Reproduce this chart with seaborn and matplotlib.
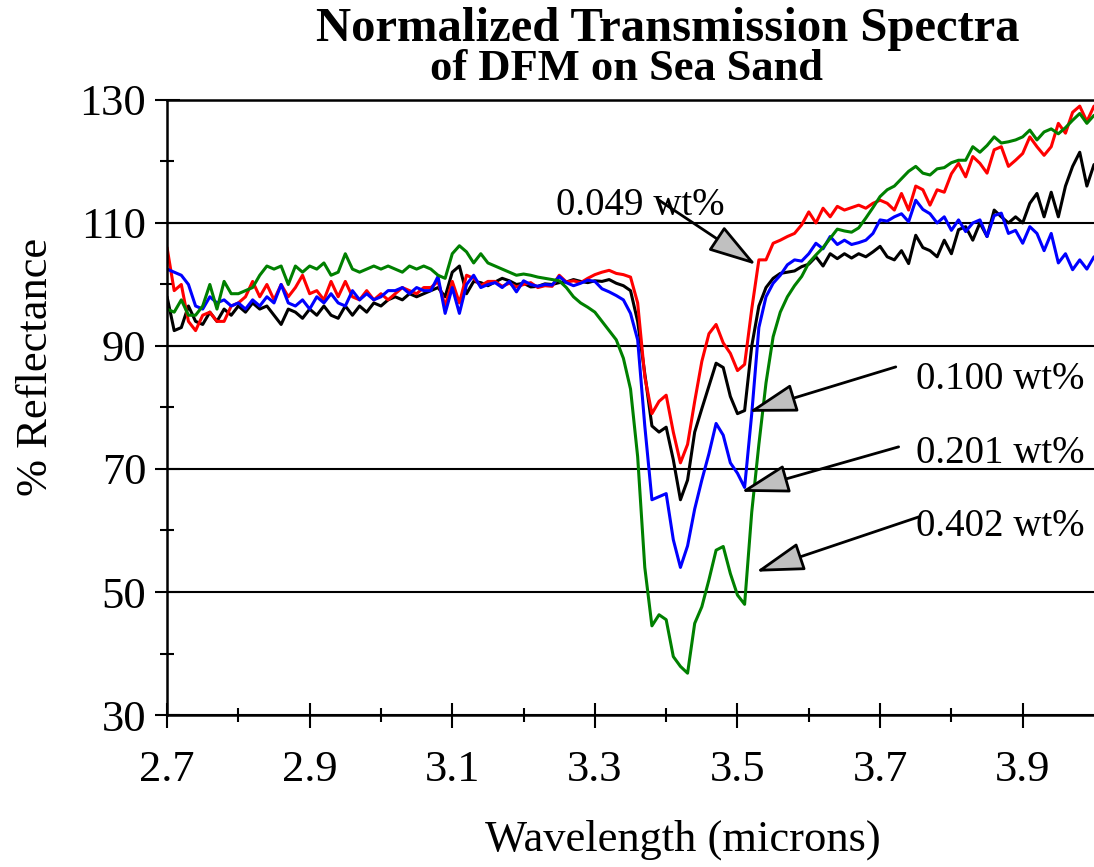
import numpy as np
import pandas as pd
import matplotlib
matplotlib.use('Agg')
import matplotlib.pyplot as plt
import seaborn as sns

# -----------------------------
# Data
# -----------------------------

# wavelength grid in microns, 2.70 ... 4.00
wavelength = np.round(np.arange(2.70, 4.005, 0.01), 2)

# % reflectance for each DFM loading
refl_0049 = [
    106, 99, 100, 94, 92.5, 95, 95.5, 94, 94, 96.5,
    97, 98, 100.5, 98, 100, 97.5, 100, 98, 99.5, 101.5,
    98.5, 99, 97.5, 100.5, 98, 100.5, 98, 97.5, 99, 97.5,
    98.5, 97.5, 98.5, 99.5, 99, 98.5, 99.5, 99.5, 100.5, 96.5,
    100.5, 97, 101.5, 101, 99.8, 100.5, 100.5, 99.7, 100.2, 99.6,
    100, 100.3, 99.5, 99.8, 99.7, 101.5, 100.4, 100.6, 100.3, 101,
    101.6, 102, 102.3, 101.8, 101.6, 101.2, 97, 85, 79, 81,
    82, 76, 71, 74, 81, 87.5, 92, 93.5, 90.5, 88.8,
    86, 87, 96, 104, 104, 106.7, 107.2, 107.8, 108.3, 109.7,
    111.8, 110, 112.4, 111, 112.7, 112.1, 112.5, 112.9, 112.4, 113.2,
    113.7, 113.2, 112.1, 114.8, 112.1, 116, 115.4, 112.9, 115.4, 115,
    118, 119.7, 117.5, 120.8, 119.7, 118.1, 121.9, 122.4, 119.2, 120.2,
    121.3, 124, 122.4, 121, 122.4, 126.2, 124.6, 128, 129, 126.5,
    129,
]

refl_0100 = [
    98, 92.5, 93, 96.5, 94, 93.5, 95.5, 94, 96, 95,
    96.5, 95.5, 97, 96, 96.5, 95, 93.5, 96, 95.5, 94.5,
    96, 95, 96.5, 95, 94.5, 96.5, 95, 96.5, 95.5, 97,
    96.5, 97.5, 98, 97.5, 98.5, 98, 98.5, 99, 99.5, 98,
    102, 103, 98.5, 100.5, 100.3, 99.8, 100.4, 101, 100.6, 100,
    100.2, 99.6, 99.7, 100.1, 100, 100.3, 100.4, 100.8, 100.5, 100.3,
    100.6, 100.5, 100.8, 100.2, 99.8, 99, 94, 85.5, 77, 76,
    76.8, 71.5, 65, 68.2, 76, 79.8, 83.5, 87.2, 86.5, 81.8,
    79, 79.5, 90, 96.5, 99.5, 101, 101.8, 102, 102.2, 102.9,
    103.3, 104.5, 103, 105, 104.2, 105, 104.3, 105, 104.5, 105.3,
    106.2, 104.5, 104, 105.5, 103.4, 108, 106, 105.5, 104.5, 107.2,
    105, 108.9, 109.4, 107.2, 110, 107.8, 112.1, 111, 110, 111,
    110, 113.2, 114.8, 111, 115, 111, 116, 119.2, 121.5, 116,
    119.5,
]

refl_0201 = [
    102.5, 102, 101.5, 100, 96.5, 96, 98, 97, 97.5, 96.5,
    97, 96, 97.5, 96.5, 98, 97, 100, 97, 96.5, 97.5,
    96, 98, 97, 98.5, 97, 96.5, 99, 97.5, 98.5, 97.5,
    98, 99, 99, 99.5, 98.5, 99.5, 99, 99, 101.3, 95.3,
    99.5, 95.3, 100, 101.5, 99.5, 100, 100.3, 99.5, 100.5, 98.8,
    100.6, 100, 99.7, 100, 99.9, 101.3, 100.3, 99.8, 100.2, 100.7,
    100.5, 99.3, 98.8, 98.2, 97.5, 95.3, 91, 77, 65, 65.5,
    66, 58.5, 54, 57.5, 63.5, 68.2, 72.5, 77.4, 75.5, 71,
    69.3, 67, 79, 93, 98, 100.2, 101.5, 103.2, 104, 103.8,
    105, 106.7, 105.8, 107.8, 106.5, 107.2, 106.5, 106.8, 107.2, 108.3,
    110.5, 110.3, 111, 111.5, 110.2, 113.7, 112.2, 111.5, 110, 111,
    108.8, 110.5, 108.6, 110, 110.5, 107.8, 111.2, 111.6, 108.3, 108.8,
    106.7, 109.4, 108.3, 105.5, 108.3, 103.5, 105, 102.4, 104, 102.5,
    104.5,
]

refl_0402 = [
    96, 95.5, 97.5, 95, 95, 96.5, 100, 96, 100.5, 98.5,
    98.5, 99, 99.5, 101.5, 103, 102.5, 103, 100, 103, 102,
    103, 102.5, 103.5, 101.5, 102, 105, 102.5, 102, 102.5, 103,
    102.5, 103, 102.5, 102, 103, 102.5, 103, 102.5, 101.5, 101,
    105, 106.3, 105.3, 103.5, 105, 103.5, 103, 102.5, 102, 101.5,
    101.7, 101.5, 101.2, 101, 100.8, 100.6, 99.5, 98, 97, 96.3,
    95.5, 94, 92.5, 91, 88, 83, 72, 54, 44.5, 46.3,
    45.5, 39.5, 37.9, 36.8, 44.9, 47.6, 52, 56.8, 57.4, 53,
    49.5, 48, 63, 74, 84, 91.5, 95.5, 98, 99.8, 101.3,
    103.5, 104.8, 106, 107.5, 109, 108.7, 108.5, 109.2, 110.8, 112.5,
    114.3, 115.4, 116, 117.2, 118.4, 119.2, 118.1, 117.8, 118.8, 119,
    119.8, 120.2, 120.2, 122.4, 121.5, 122.6, 124, 123, 123.2, 123.5,
    124, 125.1, 123.5, 124.8, 125.3, 124.5, 125.5, 126.7, 127.8, 126.2,
    127.5,
]

samples = ['0.100 wt%', '0.049 wt%', '0.201 wt%', '0.402 wt%']
series = [refl_0100, refl_0049, refl_0201, refl_0402]
colors = {'0.049 wt%': '#ff0000', '0.100 wt%': '#000000',
          '0.201 wt%': '#0000ff', '0.402 wt%': '#008000'}

# long-form table for seaborn
df = pd.DataFrame({
    'Wavelength': np.tile(wavelength, len(series)),
    'Reflectance': np.concatenate(series),
    'Sample': np.repeat(samples, len(wavelength)),
})

# -----------------------------
# Plot
# -----------------------------
sns.set_style('white')
plt.rcParams['font.family'] = ['Liberation Serif', 'DejaVu Serif']
plt.rcParams['text.color'] = 'black'
plt.rcParams['axes.labelcolor'] = 'black'
plt.rcParams['xtick.color'] = 'black'
plt.rcParams['ytick.color'] = 'black'

fig = plt.figure(figsize=(10.94, 8.67), dpi=100)
ax = fig.add_axes([0.1527, 0.1753, 0.8473, 0.7094])

sns.lineplot(data=df, x='Wavelength', y='Reflectance', hue='Sample',
             hue_order=samples, palette=colors, estimator=None, sort=False,
             linewidth=2.2, legend=False, ax=ax)

ax.set_xlim(2.7, 4.0)
ax.set_ylim(30, 130)
ax.set_xticks([2.7, 2.9, 3.1, 3.3, 3.5, 3.7, 3.9])
ax.set_xticks([2.8, 3.0, 3.2, 3.4, 3.6, 3.8], minor=True)
ax.set_yticks([30, 50, 70, 90, 110, 130])
ax.set_yticks([40, 60, 80, 100, 120], minor=True)
ax.set_xticklabels(['2.7', '2.9', '3.1', '3.3', '3.5', '3.7', '3.9'])

ax.tick_params(which='both', bottom=True, left=True, direction='inout',
               color='black', width=1.5)
ax.tick_params(which='major', length=18, labelsize=32, labelcolor='black')
ax.tick_params(axis='x', which='major', pad=16)
ax.tick_params(axis='y', which='major', pad=6)
ax.tick_params(which='minor', length=10)

# horizontal grid lines only
ax.yaxis.grid(True, which='major', color='black', linewidth=1.5)
ax.xaxis.grid(False)

for side in ['left', 'bottom', 'top']:
    ax.spines[side].set_color('black')
    ax.spines[side].set_linewidth(1.8)
ax.spines['right'].set_visible(False)

ax.set_xlabel('Wavelength (microns)', fontsize=32)
ax.set_ylabel('% Reflectance', fontsize=32)
ax.xaxis.set_label_coords(0.557, -0.170)
ax.yaxis.set_label_coords(-0.12, 0.566)

# title (two lines, different sizes)
fig.text(0.6106, 0.9525, 'Normalized Transmission Spectra', ha='center',
         va='baseline', fontsize=35, fontweight='bold')
fig.text(0.573, 0.9077, 'of DFM on Sea Sand', ha='center',
         va='baseline', fontsize=32, fontweight='bold')

# concentration labels with gray-headed arrows
arrow_style = dict(arrowstyle='-|>,head_length=3.0,head_width=0.9',
                   mutation_scale=10, fc='#c0c0c0', ec='black', lw=2,
                   shrinkA=0, shrinkB=0)

ax.text(3.246, 112.9, '0.049 wt%', fontsize=28, ha='left', va='center')
ax.annotate('', xy=(3.526, 103.2), xytext=(3.390, 113.7), arrowprops=arrow_style)

ax.text(3.750, 84.5, '0.100 wt%', fontsize=28, ha='left', va='center')
ax.annotate('', xy=(3.516, 79.3), xytext=(3.722, 86.6), arrowprops=arrow_style)

ax.text(3.750, 72.6, '0.201 wt%', fontsize=28, ha='left', va='center')
ax.annotate('', xy=(3.505, 66.3), xytext=(3.726, 73.6), arrowprops=arrow_style)

ax.text(3.750, 60.6, '0.402 wt%', fontsize=28, ha='left', va='center')
ax.annotate('', xy=(3.526, 53.3), xytext=(3.754, 62.2), arrowprops=arrow_style)

fig.savefig('out.png', dpi=100)
